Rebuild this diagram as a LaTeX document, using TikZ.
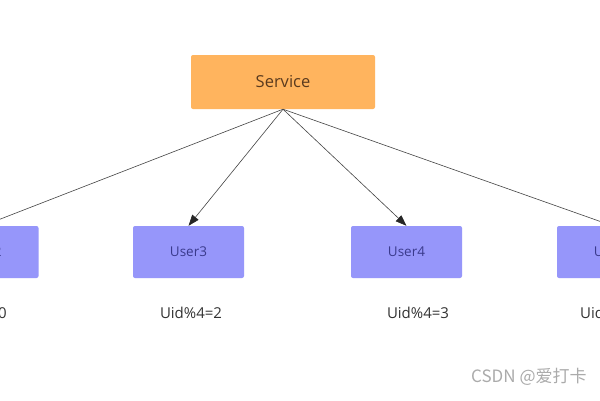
\documentclass[tikz,border=0pt]{standalone}
\usepackage{fontspec}
\setmainfont{Open Sans}
\newfontfamily\cjk{Noto Sans CJK SC}
\usetikzlibrary{arrows.meta}
\definecolor{svcfill}{HTML}{FFB45E}
\definecolor{svctext}{HTML}{5A3A1E}
\definecolor{userfill}{HTML}{9696FA}
\definecolor{usertext}{HTML}{3A3A8C}
\definecolor{lbltext}{HTML}{333333}
\definecolor{linec}{HTML}{444444}
\definecolor{headc}{HTML}{262626}
\definecolor{wmtext}{HTML}{ABABAB}
\tikzset{
  svcbox/.style={fill=svcfill, draw=none, rounded corners=2pt, minimum width=184pt, minimum height=54pt, inner sep=0pt, text=svctext, font=\fontsize{16.5}{18}\selectfont},
  userbox/.style={fill=userfill, draw=none, rounded corners=2pt, minimum width=111pt, minimum height=52pt, inner sep=0pt, text=usertext, font=\fontsize{13.5}{15}\selectfont},
  lbl/.style={text=lbltext, inner sep=0pt, font=\fontsize{15}{17}\selectfont},
  conn/.style={draw=linec, line width=0.6pt},
  arr/.style={conn, -{Triangle[length=11pt,width=8pt,color=headc]}}
}
\begin{document}
\begin{tikzpicture}[x=1pt,y=-1pt]
\useasboundingbox (0,0) rectangle (600,400);
\fill[white] (0,0) rectangle (600,400);
\begin{scope}
\clip (0,0) rectangle (600,400);
\node[svcbox] (svc) at (283,82) {Service};
\node[userbox] (u2) at (-17,252) {User2};
\node[userbox] (u3) at (188.5,252) {User3};
\node[userbox] (u4) at (406.5,252) {User4};
\node[userbox] (u5) at (612.5,252) {User5};
\node[lbl, anchor=east] (l2) at (7,312.5) {Uid\%4=0};
\node[lbl] (l3) at (191,312.5) {Uid\%4=2};
\node[lbl] (l4) at (418,312.5) {Uid\%4=3};
\node[lbl, anchor=west] (l5) at (580,312.5) {Uid\%4=1};
\draw[conn] (svc.south) -- (u2.north);
\draw[arr] (svc.south) -- (u3.north);
\draw[arr] (svc.south) -- (u4.north);
\draw[conn] (svc.south) -- (u5.north);
\node[anchor=west, text=wmtext, inner sep=0pt, font=\cjk\fontsize{17}{19}\selectfont] (wm) at (471,377) {CSDN @爱打卡};
\end{scope}
\end{tikzpicture}
\end{document}
